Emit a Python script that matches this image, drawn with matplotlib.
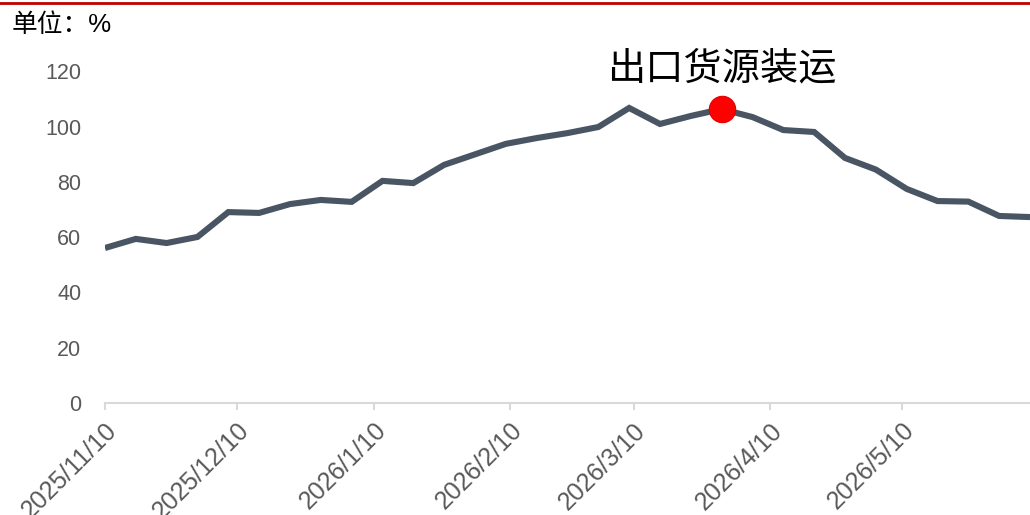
import matplotlib
matplotlib.use("Agg")
import matplotlib.pyplot as plt
from matplotlib.lines import Line2D
import pandas as pd

plt.rcParams['font.family'] = ['Liberation Sans', 'Noto Sans CJK SC', 'DejaVu Sans']

# Data: weekly series starting 2025/11/10
start_date = "2025-11-10"
n_weeks = 31
values = [56.1, 59.4, 57.9, 60.1, 69.1, 68.8, 72.0, 73.5, 72.8, 80.4,
          79.6, 86.2, 90.0, 93.8, 95.9, 97.7, 99.9, 106.8, 101.0, 103.9,
          106.4, 103.5, 98.8, 98.1, 88.7, 84.5, 77.5, 73.1, 72.9, 67.7, 67.3]
highlight_index = 20
highlight_label = "出口货源装运"
unit_label = "单位：%"
xtick_dates = ["2025-11-10", "2025-12-10", "2026-01-10", "2026-02-10",
               "2026-03-10", "2026-04-10", "2026-05-10"]
xtick_labels = ["2025/11/10", "2025/12/10", "2026/1/10", "2026/2/10",
                "2026/3/10", "2026/4/10", "2026/5/10"]
yticks = [0, 20, 40, 60, 80, 100, 120]

dates = pd.date_range(start_date, periods=n_weeks, freq="7D")

fig = plt.figure(figsize=(10.30, 5.15), dpi=100)
ax = fig.add_axes([0.1019, 0.2175, 0.8981, 0.6437])

line_color = "#4A5564"
ax.plot(dates, values, color=line_color, lw=4.4, solid_joinstyle="miter",
        solid_capstyle="butt", zorder=2)
ax.plot(dates[highlight_index], values[highlight_index], "o", ms=19,
        mfc="#FF0000", mec="#E00000", mew=0.8, zorder=3)
ax.annotate(highlight_label, (dates[highlight_index], values[highlight_index]),
            xytext=(0, 29), textcoords="offset points", ha="center", va="center",
            fontsize=27.5, color="black", family=["Noto Sans CJK SC", "DejaVu Sans"])

ax.set_ylim(0, 120)
ax.set_xlim(pd.Timestamp(start_date), dates[-1])
ax.set_yticks(yticks)
ax.set_yticklabels([str(v) for v in yticks])
ax.set_xticks(pd.to_datetime(xtick_dates))
ax.set_xticklabels(xtick_labels, rotation=45, ha="right", va="top",
                   rotation_mode="anchor")

for s in ["top", "right", "left"]:
    ax.spines[s].set_visible(False)
ax.spines["bottom"].set_color("#D9D9D9")
ax.spines["bottom"].set_linewidth(1.5)
ax.spines["bottom"].set_zorder(1)
ax.tick_params(axis="y", length=0, pad=17, labelsize=15.5, labelcolor="#595959")
ax.tick_params(axis="x", length=5, width=1.5, color="#D9D9D9", pad=6,
               labelsize=18, labelcolor="#595959")

fig.text(12 / 1030, 1 - 25 / 515, unit_label, fontsize=18.5, color="black",
         ha="left", va="center")
fig.add_artist(Line2D([0, 1], [1 - 2.5 / 515, 1 - 2.5 / 515], color="#C00000",
                      lw=2, transform=fig.transFigure))

fig.savefig("out.png", dpi=100)
